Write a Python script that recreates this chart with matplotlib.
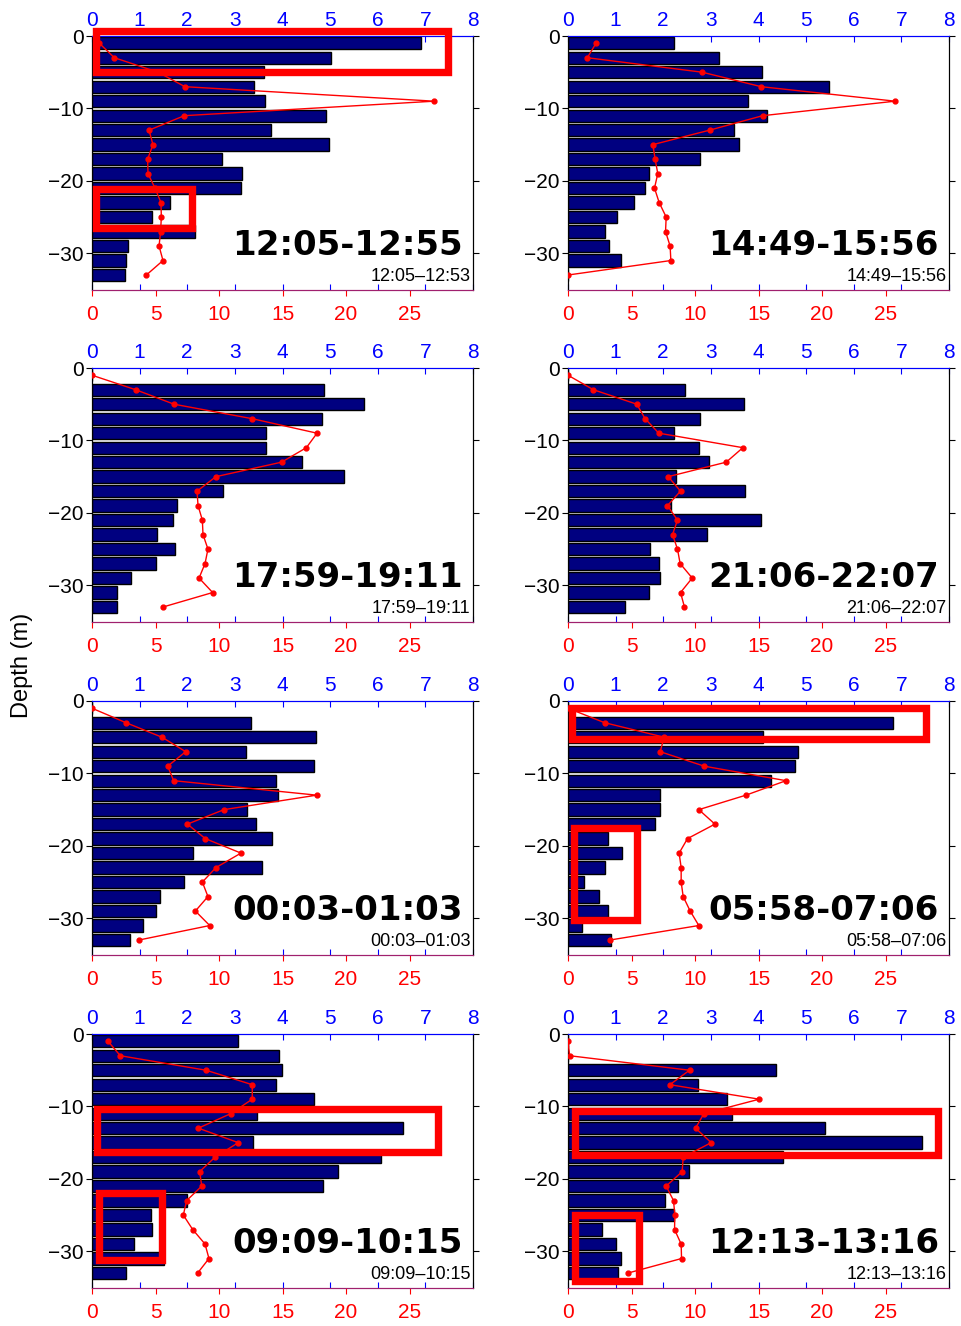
import numpy as np
import matplotlib
matplotlib.use('Agg')
import matplotlib.pyplot as plt
from matplotlib.patches import Rectangle

# depth of each bin centre (m)
depths = [-1, -3, -5, -7, -9, -11, -13, -15, -17, -19, -21, -23, -25, -27, -29, -31, -33]

titles = ['12:05-12:55', '14:49-15:56', '17:59-19:11', '21:06-22:07',
          '00:03-01:03', '05:58-07:06', '09:09-10:15', '12:13-13:16']
subtitles = ['12:05\u201312:53', '14:49\u201315:56', '17:59\u201319:11', '21:06\u201322:07',
             '00:03\u201301:03', '05:58\u201307:06', '09:09\u201310:15', '12:13\u201313:16']

# bar values (top, blue axis)
bars1 = [6.90, 5.01, 3.62, 3.40, 3.64, 4.92, 3.75, 4.97, 2.72, 3.15, 3.12, 1.64, 1.27, 2.16, 0.76, 0.71, 0.69]
bars2 = [2.22, 3.17, 4.07, 5.47, 3.77, 4.18, 3.49, 3.59, 2.77, 1.70, 1.61, 1.39, 1.03, 0.77, 0.86, 1.11, 0.0]
bars3 = [0.0, 4.88, 5.71, 4.82, 3.66, 3.66, 4.40, 5.29, 2.76, 1.78, 1.71, 1.36, 1.74, 1.34, 0.82, 0.52, 0.52]
bars4 = [0.0, 2.45, 3.69, 2.78, 2.23, 2.76, 2.97, 2.27, 3.71, 2.16, 4.05, 2.91, 1.73, 1.92, 1.94, 1.70, 1.19]
bars5 = [0.0, 3.33, 4.70, 3.23, 4.66, 3.87, 3.90, 3.25, 3.44, 3.79, 2.12, 3.57, 1.94, 1.42, 1.35, 1.08, 0.80]
bars6 = [0.0, 6.83, 4.10, 4.82, 4.76, 4.26, 1.93, 1.94, 1.82, 0.85, 1.14, 0.78, 0.33, 0.65, 0.83, 0.29, 0.90]
bars7 = [3.06, 3.93, 3.99, 3.86, 4.66, 3.47, 6.52, 3.38, 6.07, 5.17, 4.84, 2.00, 1.24, 1.26, 0.89, 1.51, 0.71]
bars8 = [0.0, 0.0, 4.37, 2.73, 3.33, 3.44, 5.40, 7.44, 4.51, 2.55, 2.32, 2.04, 2.23, 0.71, 1.00, 1.11, 1.05]

# line values (bottom, red axis)
line1 = [0.58, 1.76, 5.2, 7.32, 26.95, 7.27, 4.49, 4.80, 4.38, 4.41, 4.96, 5.43, 5.46, 5.4, 5.28, 5.59, 4.28]
line2 = [2.21, 1.52, 10.57, 15.22, 25.76, 15.33, 11.15, 6.68, 6.86, 7.07, 6.81, 7.18, 7.73, 7.68, 8.04, 8.10, 0.0]
line3 = [0.0, 3.44, 6.46, 12.62, 17.72, 16.88, 14.93, 9.76, 8.27, 8.35, 8.69, 8.74, 9.13, 8.90, 8.43, 9.50, 5.59]
line4 = [0.0, 2.00, 5.42, 6.07, 7.15, 13.77, 12.46, 7.89, 8.86, 7.83, 8.62, 8.23, 8.62, 8.83, 9.78, 8.86, 9.17]
line5 = [0.0, 2.68, 5.51, 7.38, 5.96, 6.43, 17.69, 10.39, 7.51, 8.92, 11.73, 9.76, 8.69, 9.13, 8.14, 9.27, 3.70]
line6 = [0.0, 2.89, 7.57, 7.26, 10.73, 17.17, 14.01, 10.30, 11.57, 9.41, 8.75, 8.91, 8.91, 9.07, 9.62, 10.30, 3.31]
line7 = [1.26, 2.23, 8.98, 12.62, 12.62, 10.92, 8.37, 11.52, 9.69, 8.48, 8.64, 7.45, 7.19, 7.93, 8.90, 9.21, 8.32]
line8 = [0.0, 0.13, 9.57, 8.02, 15.06, 10.7, 10.04, 11.28, 9.07, 8.99, 7.73, 8.31, 8.41, 8.39, 8.91, 8.94, 4.73]

all_bars = [bars1, bars2, bars3, bars4, bars5, bars6, bars7, bars8]
all_lines = [line1, line2, line3, line4, line5, line6, line7, line8]

# highlight boxes: panel index, (x0, x1) in top-axis units, (y0, y1) depth
boxes = [(0, (0.08, 7.47), (0.71, -5.03)),
         (0, (0.08, 2.10), (-21.08, -26.55)),
         (5, (0.08, 7.52), (-0.92, -5.30)),
         (5, (0.12, 1.45), (-17.5, -30.3)),
         (6, (0.10, 7.26), (-10.41, -16.27)),
         (6, (0.15, 1.47), (-21.94, -31.15)),
         (7, (0.15, 7.76), (-10.65, -16.64)),
         (7, (0.15, 1.50), (-25.0, -34.1))]

W, H = 961, 1326
fig = plt.figure(figsize=(W / 100, H / 100), dpi=100)

lefts = [92, 568]
tops = [36, 368, 701, 1034]
aw, ah = 381, 253.5
tick_font = 'Liberation Sans'
tsize = 15

axes = []
for i in range(8):
    r, c = i // 2, i % 2
    ax = fig.add_axes([lefts[c] / W, 1 - (tops[r] + ah) / H, aw / W, ah / H])
    ax2 = ax.twiny()   # twiny resets ax ticks, so set them up afterwards

    ax.barh(depths, all_bars[i], height=1.7, color='#000080', edgecolor='black', linewidth=1.0, zorder=2)
    ax.set_xlim(0, 8)
    ax.set_ylim(-35, 0)
    ax.xaxis.tick_top()
    ax.set_xticks(range(9))
    ax.tick_params(axis='x', which='both', colors='blue', labelcolor='blue', direction='in',
                   top=True, bottom=True, labeltop=True, labelbottom=False,
                   labelsize=tsize, length=4, pad=4)
    ax.set_yticks([0, -10, -20, -30])
    ax.set_yticklabels(['0', '\u221210', '\u221220', '\u221230'])
    ax.tick_params(axis='y', colors='black', direction='out', left=True, right=True,
                   labelsize=tsize, length=4, pad=2)
    for lab in ax.get_xticklabels() + ax.get_yticklabels():
        lab.set_fontfamily(tick_font)

    ax2.plot(all_lines[i], depths, color='red', linewidth=1.0, marker='o', markersize=3.5, zorder=3)
    ax2.set_xlim(0, 30)
    ax2.set_ylim(-35, 0)
    ax2.set_xticks([0, 5, 10, 15, 20, 25])
    ax2.tick_params(axis='x', colors='red', labelcolor='red', direction='out', top=False,
                    bottom=True, labeltop=False, labelbottom=True,
                    labelsize=tsize, length=4, pad=7)
    for lab in ax2.get_xticklabels():
        lab.set_fontfamily(tick_font)
    for a in (ax, ax2):
        a.spines['top'].set_color('blue')
        a.spines['bottom'].set_color('#a0206e')
    ax2.patch.set_visible(False)

    ax2.text(0.974, 0.136, titles[i], transform=ax.transAxes, ha='right', va='baseline',
             fontsize=24.5, fontweight='bold', family='DejaVu Sans', zorder=5)
    ax2.text(0.994, 0.034, subtitles[i], transform=ax.transAxes, ha='right', va='baseline',
             fontsize=13, family=tick_font, zorder=5)
    axes.append(ax)

for idx, (x0, x1), (y0, y1) in boxes:
    rect = Rectangle((x0, y1), x1 - x0, y0 - y1, transform=axes[idx].transData,
                     fill=False, edgecolor='red', linewidth=5.3, clip_on=False, zorder=10)
    fig.add_artist(rect)

fig.text(21.7 / W, 1 - 665 / H, 'Depth (m)', rotation=90, ha='center', va='center',
         fontsize=17, family=tick_font)

fig.savefig('out.png', dpi=100)
